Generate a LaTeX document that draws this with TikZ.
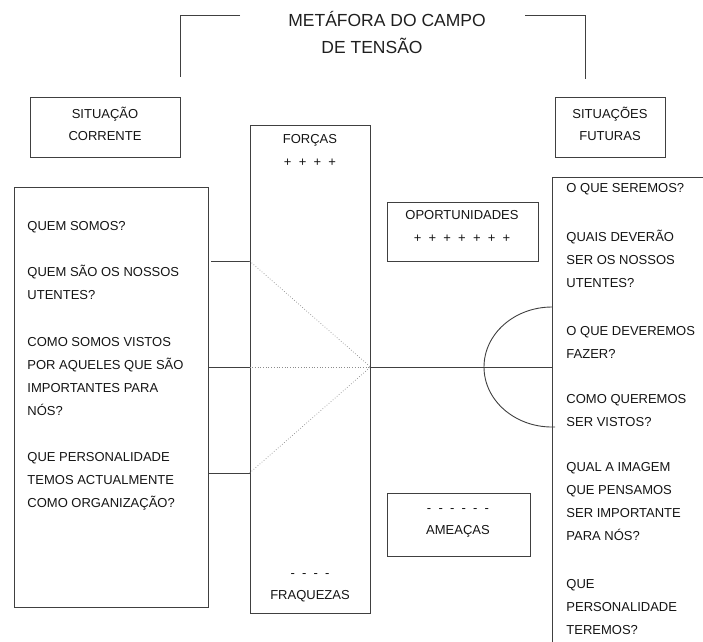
\documentclass[tikz,border=0pt]{standalone}
\usepackage{fontspec}
\setmainfont{Liberation Sans}
\begin{document}
\begin{tikzpicture}[x=1pt,y=-1pt,
  line width=0.9pt,
  ink/.style={draw=black!75},
  boxn/.style={ink,rectangle,inner sep=0pt},
  txt/.style={font=\fontsize{13}{23}\selectfont,text=black!92,inner sep=0pt,text height=0.72em,text depth=0pt},
  lft/.style={txt,anchor=west},
  ttl/.style={font=\fontsize{17.5}{22}\selectfont,text=black!88,inner sep=0pt,text height=0.72em,text depth=0pt},
  dots/.style={draw=black!45,line width=0.7pt,dotted}]
\useasboundingbox (0,0) rectangle (703,641);
\clip (0,0) rectangle (703,641);
% title
\node[ttl] (t1) at (387,23) {METÁFORA DO CAMPO};
\node[ttl] (t2) at (372,50) {DE TENSÃO};
\coordinate (bl1) at (240,15); \coordinate (bl2) at (180,15); \coordinate (bl3) at (180,77);
\coordinate (br1) at (525,15); \coordinate (br2) at (585,15); \coordinate (br3) at (585,79);
\draw[ink] (bl1) -- (bl2) -- (bl3);
\draw[ink] (br1) -- (br2) -- (br3);
% top small boxes
\node[boxn,minimum width=150pt,minimum height=60pt] (sc) at (105,127) {};
\node[txt] (sc1) at (105,115) {SITUAÇÃO};
\node[txt] (sc2) at (105,137) {CORRENTE};
\node[boxn,minimum width=110pt,minimum height=60pt] (sf) at (610,127) {};
\node[txt] (sf1) at (610,115) {SITUAÇÕES};
\node[txt] (sf2) at (610,137) {FUTURAS};
% big boxes
\node[boxn,minimum width=194pt,minimum height=420pt] (lb) at (111,397) {};
\node[boxn,minimum width=120pt,minimum height=488pt] (cb) at (310,369) {};
\node[boxn,minimum width=180pt,minimum height=500pt,anchor=north west] (rb) at (552,177) {};
\node[boxn,minimum width=151pt,minimum height=59pt] (op) at (462.5,231.5) {};
\node[boxn,minimum width=143pt,minimum height=63pt] (am) at (458.5,524.5) {};
% centre texts
\node[txt] (fo1) at (310,140) {FORÇAS};
\node[txt] (fo2) at (310,163) {+\ \ +\ \ +\ \ +};
\node[txt] (fr1) at (310,574) {-\ \ -\ \ -\ \ -};
\node[txt] (fr2) at (310,596) {FRAQUEZAS};
\node[txt] (op1) at (462,216) {OPORTUNIDADES};
\node[txt] (op2) at (462,239) {+\ \ +\ \ +\ \ +\ \ +\ \ +\ \ +};
\node[txt] (am1) at (458,509) {-\ \ -\ \ -\ \ -\ \ -\ \ -};
\node[txt] (am2) at (458,531) {AMEAÇAS};
% left texts
\node[lft] (l1) at (27,227) {QUEM SOMOS?};
\node[lft] (l2) at (27,273) {QUEM SÃO OS NOSSOS};
\node[lft] (l3) at (27,296) {UTENTES?};
\node[lft] (l4) at (27,343) {COMO SOMOS VISTOS};
\node[lft] (l5) at (27,366) {POR AQUELES QUE SÃO};
\node[lft] (l6) at (27,389) {IMPORTANTES PARA};
\node[lft] (l7) at (27,412) {NÓS?};
\node[lft] (l8) at (27,458) {QUE PERSONALIDADE};
\node[lft] (l9) at (27,481) {TEMOS ACTUALMENTE};
\node[lft] (l10) at (27,504) {COMO ORGANIZAÇÃO?};
% right texts
\node[lft] (r1) at (566,189) {O QUE SEREMOS?};
\node[lft] (r2) at (566,238) {QUAIS DEVERÃO};
\node[lft] (r3) at (566,261) {SER OS NOSSOS};
\node[lft] (r4) at (566,284) {UTENTES?};
\node[lft] (r5) at (566,332) {O QUE DEVEREMOS};
\node[lft] (r6) at (566,355) {FAZER?};
\node[lft] (r7) at (566,400) {COMO QUEREMOS};
\node[lft] (r8) at (566,423) {SER VISTOS?};
\node[lft] (r9) at (566,468) {QUAL A IMAGEM};
\node[lft] (r10) at (566,491) {QUE PENSAMOS};
\node[lft] (r11) at (566,514) {SER IMPORTANTE};
\node[lft] (r12) at (566,537) {PARA NÓS?};
\node[lft] (r13) at (566,585) {QUE};
\node[lft] (r14) at (566,608) {PERSONALIDADE};
\node[lft] (r15) at (566,631) {TEREMOS?};
% connectors
\coordinate (ya) at (0,261); \coordinate (yb) at (0,367); \coordinate (yc) at (0,473);
\coordinate (fp) at (cb.east |- yb);
\draw[ink] ([xshift=3pt]lb.east |- ya) -- (cb.west |- ya);
\draw[ink] (lb.east |- yb) -- (cb.west |- yb);
\draw[ink] (lb.east |- yc) -- (cb.west |- yc);
\draw[dots] (cb.west |- ya) -- (fp);
\draw[dots] (cb.west |- yc) -- (fp);
\draw[dots] (cb.west |- yb) -- (fp);
\draw[ink] (fp) -- (rb.west |- yb);
\coordinate (at) at (552,307);
\draw[ink] (at) arc[start angle=270,end angle=90,x radius=68,y radius=60] -- ++(3,0);
\end{tikzpicture}
\end{document}
